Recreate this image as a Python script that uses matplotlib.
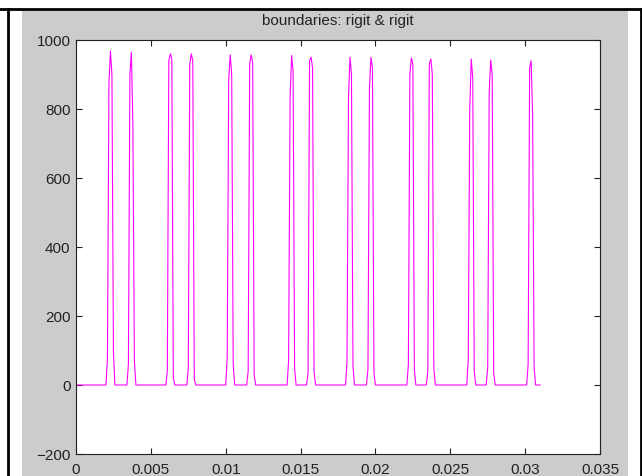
import numpy as np
import matplotlib.pyplot as plt
from matplotlib.lines import Line2D
from matplotlib.patches import Rectangle

plt.rcParams['font.family'] = ['Liberation Sans', 'DejaVu Sans']

# sampled signal: dt = 0.0001 s, flat at 0 except for short spikes
dt = 0.0001
n_samples = 311
spike_idx = [23, 37, 63, 77, 103, 117, 144, 157, 183, 197, 224, 237, 264, 277, 304]   # index of peak sample
spike_vals = [
    [75, 875, 968, 900, 95],
    [60, 900, 965, 750, 70],
    [41, 940, 960, 945, 23],
    [49, 930, 960, 940, 17],
    [80, 885, 957, 900, 60],
    [40, 930, 957, 935, 30],
    [70, 830, 955, 910, 50],
    [35, 940, 950, 920, 40],
    [65, 830, 950, 900, 55],
    [45, 860, 950, 920, 35],
    [60, 900, 948, 930, 45],
    [40, 930, 945, 900, 50],
    [75, 800, 945, 890, 40],
    [50, 850, 942, 900, 35],
    [60, 920, 940, 780, 50],
]

t = np.arange(n_samples) * dt
y = np.zeros(n_samples)
for idx, vals in zip(spike_idx, spike_vals):
    y[idx - 2:idx + 3] = vals

fig = plt.figure(figsize=(6.42, 4.77), dpi=100)
fig.patch.set_facecolor('white')

# grey MATLAB figure panel + black window border
fig.patches.append(Rectangle((22 / 642, 0), 606 / 642, 467 / 477, transform=fig.transFigure,
                             facecolor='#cccccc', edgecolor='none', zorder=-10))
fig.lines.append(Line2D([0, 1], [1 - 9.5 / 477] * 2, transform=fig.transFigure, color='black', lw=2))
fig.lines.append(Line2D([7.5 / 642] * 2, [0, 1 - 9.5 / 477], transform=fig.transFigure, color='black', lw=2))
fig.lines.append(Line2D([641 / 642] * 2, [0, 1 - 9.5 / 477], transform=fig.transFigure, color='black', lw=2))

ax = fig.add_axes([76 / 642, 22 / 477, 524 / 642, 414 / 477])
ax.set_facecolor('white')
ax.plot(t, y, color='#ff00ff', lw=0.8)

ax.set_xlim(0, 0.035)
ax.set_ylim(-200, 1000)
xt = np.arange(0, 0.0351, 0.005)
ax.set_xticks(xt)
ax.set_xticklabels(['0', '0.005', '0.01', '0.015', '0.02', '0.025', '0.03', '0.035'])
ax.set_yticks(np.arange(-200, 1001, 200))
ax.tick_params(direction='in', length=4, width=0.8, top=True, right=True, labelsize=11,
               colors='#222222')
ax.tick_params(axis='x', pad=6)
ax.tick_params(axis='y', pad=4)
for s in ax.spines.values():
    s.set_color('#222222')
    s.set_linewidth(0.8)

ax.set_title('boundaries: rigit & rigit', fontsize=11, color='#222222', pad=11.5)

fig.savefig('out.png', dpi=100)
